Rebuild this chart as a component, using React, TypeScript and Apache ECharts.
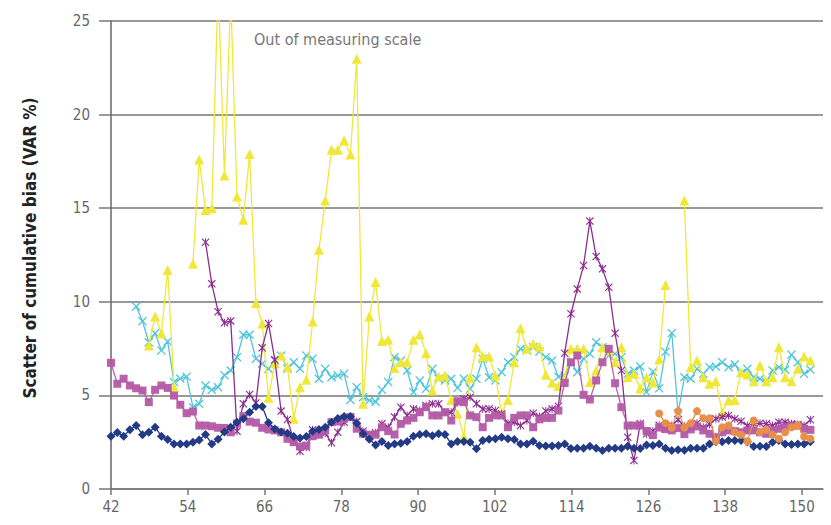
import React, { useEffect, useRef } from "react";
import * as echarts from "echarts";

// x categories 42..155 (last two are empty padding to the grid edge)
const firstX = 42;
const categoryCount = 114;
const categories: string[] = Array.from({ length: categoryCount }, (_, k) => String(firstX + k));

const xTickMin = 42;
const xTickMax = 153.3;
const xTickStep = 12;
const yTicks = [0, 5, 10, 15, 20, 25];

const navy: (number | null)[] = [
  2.82, 3.02, 2.82, 3.16, 3.39, 2.9, 3.03, 3.3, 2.82, 2.64,
  2.41, 2.41, 2.41, 2.5, 2.62, 2.91, 2.41, 2.66, 3.05, 3.3,
  3.57, 3.75, 4.1, 4.41, 4.41, 3.54, 3.21, 3.05, 2.98, 2.8,
  2.73, 2.8, 3.09, 3.18, 3.3, 3.57, 3.77, 3.87, 3.87, 3.51,
  2.95, 2.66, 2.35, 2.54, 2.32, 2.41, 2.45, 2.54, 2.82, 2.91,
  2.95, 2.84, 2.95, 2.91, 2.41, 2.54, 2.54, 2.5, 2.15, 2.59,
  2.66, 2.68, 2.77, 2.68, 2.64, 2.41, 2.41, 2.55, 2.32, 2.3,
  2.3, 2.33, 2.41, 2.17, 2.18, 2.18, 2.29, 2.18, 2.06, 2.18,
  2.18, 2.18, 2.29, 2.18, 2.16, 2.35, 2.33, 2.41, 2.18, 2.06,
  2.1, 2.07, 2.18, 2.18, 2.18, 2.41, 2.52, 2.52, 2.59, 2.59,
  2.59, 2.52, 2.27, 2.29, 2.27, 2.5, 2.59, 2.41, 2.38, 2.41,
  2.41, 2.52,
];

const magenta: (number | null)[] = [
  6.74, 5.62, 5.89, 5.53, 5.38, 5.26, 4.64, 5.3, 5.53, 5.4,
  4.99, 4.5, 4.05, 4.14, 3.39, 3.39, 3.35, 3.27, 3.26, 3.03,
  3.5, 3.89, 3.6, 3.54, 3.27, 3.18, 3.13, 3.03, 2.68, 2.5,
  2.27, 2.32, 2.82, 2.9, 3.13, 3.57, 3.6, 3.75, 3.84, 3.22,
  2.95, 2.9, 2.9, 3.3, 3.09, 2.91, 3.48, 3.66, 3.8, 4.1,
  4.37, 3.93, 3.93, 4.1, 3.66, 4.69, 4.64, 3.93, 3.84, 3.3,
  3.8, 3.93, 3.93, 3.3, 3.8, 3.93, 3.93, 3.3, 3.72, 3.8,
  3.8, 4.19, 5.66, 6.77, 7.13, 5.03, 4.78, 5.8, 6.77, 7.49,
  5.65, 4.37, 3.39, 3.39, 3.39, 3.1, 2.88, 3.28, 3.2, 3.13,
  3.25, 2.93, 3.18, 3.34, 3.13, 2.95, 2.77, 3.03, 3.13, 3.09,
  3.03, 3.13, 3.13, 3.03, 2.95, 3.13, 3.22, 3.3, 3.39, 3.39,
  3.22, 3.16,
];

const purple: (number | null)[] = [
  null, null, null, null, null, null, null, null, null, null,
  null, null, null, null, null, 13.18, 10.96, 9.47, 8.88, 8.98,
  3.09, 4.55, 5.05, 4.6, 7.54, 8.84, 6.9, 4.16, 3.71, 2.59,
  2.02, 2.23, 3.16, 2.95, 2.98, 2.47, 3.03, 3.57, 3.84, 3.6,
  3.09, 2.9, 3.0, 3.48, 3.3, 3.84, 4.37, 3.93, 4.28, 4.19,
  4.46, 4.55, 4.55, 4.1, 4.1, 4.64, 4.82, 4.9, 4.55, 4.28,
  4.28, 4.19, 4.02, 3.51, 3.57, 3.39, 3.66, 4.05, 3.87, 4.17,
  4.28, 4.42, 7.25, 9.36, 10.69, 11.94, 14.31, 12.42, 11.76, 10.78,
  8.32, 6.33, 2.77, 1.52, 3.5, 2.95, 3.1, 3.4, 3.22, 3.4,
  3.7, 3.35, 3.3, 3.51, 3.3, 3.45, 3.75, 3.84, 3.93, 3.75,
  3.62, 3.39, 3.48, 3.51, 3.48, 3.39, 3.57, 3.57, 3.48, 3.45,
  3.39, 3.7,
];

const cyan: (number | null)[] = [
  null, null, null, null, 9.75, 8.96, 7.84, 8.32, 7.4, 7.88,
  5.71, 5.9, 6.0, 4.37, 4.55, 5.53, 5.3, 5.44, 6.08, 6.33,
  7.04, 8.24, 8.24, 6.96, 6.69, 6.42, 6.86, 7.13, 6.42, 6.77,
  6.42, 7.13, 6.96, 5.89, 6.42, 5.97, 6.06, 6.15, 4.76, 5.44,
  4.9, 4.73, 4.66, 5.3, 5.71, 7.04, 6.86, 6.33, 5.17, 5.8,
  5.35, 6.42, 5.89, 5.8, 5.89, 5.4, 5.89, 5.35, 5.89, 6.96,
  5.97, 5.8, 6.24, 6.77, 7.04, 7.49, 7.4, 7.57, 7.35, 7.04,
  6.86, 6.0, 6.06, 6.77, 6.24, 6.96, 7.22, 7.84, 7.57, 7.13,
  7.22, 7.04, 6.15, 6.33, 6.55, 5.17, 6.27, 5.38, 7.33, 8.33,
  4.05, 5.97, 5.89, 6.42, 6.15, 6.51, 6.54, 6.77, 6.51, 6.65,
  6.19, 6.42, 5.97, 5.89, 5.71, 6.33, 6.51, 6.37, 7.18, 6.77,
  6.15, 6.38,
];

const yellow: (number | null)[] = [
  null, null, null, null, null, null, 7.67, 9.21, 8.32, 11.7,
  5.44, null, null, 12.03, 17.6, 14.9, 15.0, 27, 16.75, 26.3,
  15.63, 14.38, 17.9, 9.93, 8.84, 4.87, 6.72, 7.13, 6.54, 3.75,
  5.44, 5.83, 8.95, 12.78, 15.41, 18.12, 18.12, 18.62, 17.87, 22.98,
  4.56, 9.21, 11.06, 7.9, 7.97, 6.47, 6.77, 6.77, 7.97, 8.25,
  7.25, 5.26, 6.01, 6.06, 4.76, 4.02, 2.8, 5.94, 7.57, 7.08,
  7.08, 6.06, 4.05, 4.76, 6.77, 8.59, 7.49, 7.76, 7.61, 6.1,
  5.67, 5.5, 5.97, 7.49, 7.49, 7.49, 5.71, 6.33, 7.57, 7.4,
  6.77, 7.57, 5.97, 6.15, 5.37, 5.96, 5.68, 6.93, 10.9, null,
  null, 15.41, 6.51, 6.86, 5.97, 5.62, 5.76, 4.1, 4.73, 4.76,
  6.24, 6.12, 5.76, 6.6, 5.76, 5.97, 7.57, 5.97, 5.76, 6.42,
  7.08, 6.86,
];

const orange: (number | null)[] = [
  null, null, null, null, null, null, null, null, null, null,
  null, null, null, null, null, null, null, null, null, null,
  null, null, null, null, null, null, null, null, null, null,
  null, null, null, null, null, null, null, null, null, null,
  null, null, null, null, null, null, null, null, null, null,
  null, null, null, null, null, null, null, null, null, null,
  null, null, null, null, null, null, null, null, null, null,
  null, null, null, null, null, null, null, null, null, null,
  null, null, null, null, null, null, null, 4.03, 3.51, 3.29,
  4.16, 3.29, 3.51, 4.16, 3.78, 3.78, 2.55, 3.3, 3.39, 3.03,
  2.9, 2.55, 3.66, 3.03, 3.16, 2.9, 2.68, 3.03, 3.3, 3.39,
  2.8, 2.68,
];

const annotationText = "Out of measuring scale";
const yAxisTitle = "Scatter of cumulative bias (VAR %)";

const X_MARK = "path://M0,1L1,0L5,4L9,0L10,1L6,5L10,9L9,10L5,6L1,10L0,9L4,5Z";
const ASTERISK =
  "path://M0,1L1,0L5,4L9,0L10,1L6,5L10,9L9,10L5,6L1,10L0,9L4,5Z M4.4,0L5.6,0L5.6,10L4.4,10Z";

const FONT = "'Liberation Sans Narrow', 'DejaVu Sans Condensed', 'Liberation Sans', sans-serif";

export default function App() {
  const ref = useRef<HTMLDivElement>(null);

  useEffect(() => {
    if (!ref.current) return;
    const chart = echarts.init(ref.current, undefined, { renderer: "svg" });

    const mk = (
      name: string,
      data: (number | null)[],
      color: string,
      symbol: string,
      symbolSize: number,
      z: number,
      opacity = 1
    ) => ({
      name,
      type: "line",
      xAxisIndex: 0,
      data,
      z,
      symbol,
      symbolSize,
      showSymbol: true,
      showAllSymbol: true,
      connectNulls: false,
      clip: true,
      lineStyle: { color, width: 1.3, opacity },
      itemStyle: { color, opacity },
    });

    chart.setOption({
      animation: false,
      backgroundColor: "#ffffff",
      grid: { left: 111, top: 21, right: 8, bottom: 36, containLabel: false },
      xAxis: [
        {
          type: "category",
          data: categories,
          boundaryGap: false,
          axisLine: { show: true, lineStyle: { color: "#777777", width: 1.5 } },
          axisTick: { show: false },
          axisLabel: { show: false },
          splitLine: { show: false },
        },
        {
          type: "value",
          position: "bottom",
          min: xTickMin,
          max: xTickMax,
          interval: xTickStep,
          axisLine: { show: false },
          axisTick: { show: true, length: 6, lineStyle: { color: "#777777", width: 1.5 } },
          axisLabel: {
            color: "#666666",
            fontSize: 15,
            fontFamily: FONT,
            margin: 10,
            showMaxLabel: false,
          },
          splitLine: { show: false },
        },
      ],
      yAxis: {
        type: "value",
        min: yTicks[0],
        max: yTicks[yTicks.length - 1],
        interval: 5,
        axisLine: { show: true, lineStyle: { color: "#666666", width: 1.5 } },
        axisTick: { show: true, inside: false, length: 12, lineStyle: { color: "#777777", width: 1.5 } },
        axisLabel: { color: "#666666", fontSize: 15, fontFamily: FONT, margin: 21 },
        splitLine: { show: true, lineStyle: { color: "#777777", width: 1.5 } },
      },
      series: [
        mk("Cyan", cyan, "#4ec5da", X_MARK, 9, 2),
        mk("Yellow", yellow, "#f0e839", "triangle", 10, 3),
        mk("Purple", purple, "#8b2e90", ASTERISK, 8, 4),
        mk("Magenta", magenta, "#b45aa6", "rect", 8, 5, 0.95),
        mk("Navy", navy, "#233a85", "diamond", 9, 6),
        mk("Orange", orange, "#e8904a", "circle", 8, 7),
      ],
      graphic: [
        {
          type: "text",
          left: 254,
          top: 31,
          style: {
            text: annotationText,
            fill: "#777777",
            fontSize: 16,
            fontFamily: FONT,
          },
        },
        {
          type: "text",
          x: 30,
          y: 248,
          rotation: Math.PI / 2,
          style: {
            text: yAxisTitle,
            fill: "#222222",
            fontSize: 17,
            fontWeight: "bold",
            fontFamily: FONT,
            align: "center",
            verticalAlign: "middle",
          },
        },
      ],
    });

    return () => chart.dispose();
  }, []);

  return <div ref={ref} style={{ width: 831, height: 525, position: "absolute", left: 0, top: 0 }} />;
}
